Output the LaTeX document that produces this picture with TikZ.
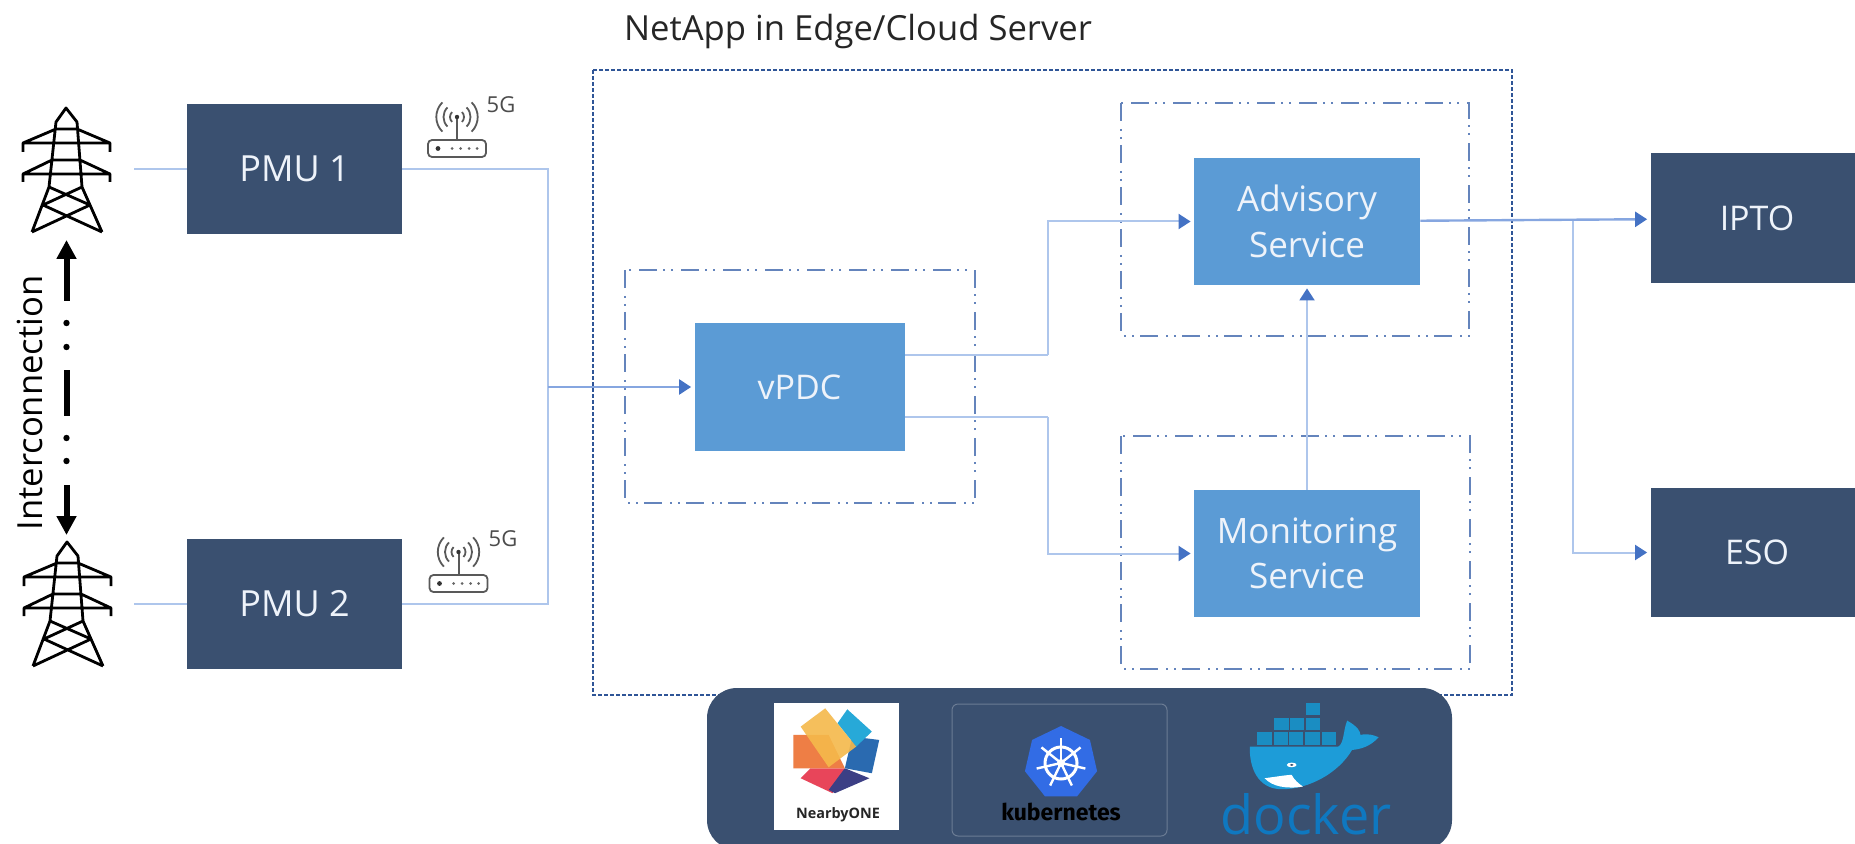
\documentclass[tikz,border=0pt]{standalone}
\usepackage{fontspec}
\setmainfont{Open Sans}
\newfontfamily\kubefont{Fira Sans}
\usetikzlibrary{arrows.meta,shapes.geometric}
\definecolor{darkbox}{HTML}{3A5070}
\definecolor{lightbox}{HTML}{5B9BD5}
\definecolor{wirecol}{HTML}{AEC6EC}
\definecolor{trunkcol}{HTML}{86A6E0}
\definecolor{tipcol}{HTML}{4472C4}
\definecolor{framecol}{HTML}{2F5597}
\definecolor{groupcol}{HTML}{6484BC}
\definecolor{boxtext}{HTML}{EEF3FA}
\definecolor{whale}{HTML}{1D9CD8}
\definecolor{kubeblue}{HTML}{326CE5}
\definecolor{dockertext}{HTML}{0F78C0}
\definecolor{logored}{HTML}{E8455A}
\definecolor{logonavy}{HTML}{3C3F85}
\definecolor{logoorange}{HTML}{EE7E45}
\definecolor{logoblue}{HTML}{2A6AB0}
\definecolor{logocyan}{HTML}{27A9D8}
\definecolor{logoyellow}{HTML}{F5B94B}
\tikzset{
  pmubox/.style={fill=darkbox,text=boxtext,minimum width=107.5pt,minimum height=65pt,inner sep=0pt,font=\fontsize{18}{20}\selectfont},
  sinkbox/.style={pmubox,minimum width=106.5pt,font=\fontsize{17}{20}\selectfont},
  appbox/.style={fill=lightbox,text=boxtext,minimum width=113pt,minimum height=63.5pt,inner sep=0pt,align=center,font=\fontsize{17.5}{22.8}\selectfont},
  wire/.style={draw=wirecol,line width=1pt},
  link/.style={wire,shorten >=1.5pt,-{Triangle[length=6pt,width=7.5pt,color=tipcol]}},
  trunk/.style={link,draw=trunkcol,line width=1.2pt},
  group/.style={draw=groupcol,line width=1.4pt,dash pattern=on 9pt off 4pt on 1pt off 3pt on 1pt off 3pt},
  bigarrow/.style={line width=3pt,-{Triangle[length=9.5pt,width=9.5pt]}},
  tower/.pic={
    \draw[line width=1.4pt,line join=round]
      (-34,124) -- (-17,79) -- (-10,14) -- (0,0) -- (11,14) -- (16,79) -- (36,124)
      (-34,124) -- (24,97) -- (-17,79) (36,124) -- (-23,97) -- (16,79)
      (-10,21) -- (11,21) (-14,52) -- (14,52)
      (-43,44) -- (-43,35) -- (-10,21) (-43,35) -- (43,35) (44,44) -- (44,35) -- (11,21)
      (-43,74) -- (-43,66) -- (-14,52) (-43,66) -- (43,66) (44,74) -- (44,66) -- (14,52);
  },
  router/.pic={
    \draw[black!65,line width=.9pt,rounded corners=2pt] (-29,23) rectangle (29,40);
    \draw[black!65,line width=1pt] (0,0) -- (0,23);
    \fill[black!80] (0,0) circle[radius=2.2] (-19,31.5) circle[radius=2.4];
    \foreach \dotx in {-5,3.5,12,20} \fill[black!60] (\dotx,31.5) circle[radius=1.5];
    \foreach \r in {7,13.5,20.7} {
      \draw[black!65,line width=.9pt] ([shift={(225:\r)}]0,0) arc[start angle=225,end angle=135,radius=\r];
      \draw[black!65,line width=.9pt] ([shift={(-45:\r)}]0,0) arc[start angle=-45,end angle=45,radius=\r];
    }
  }
}
\begin{document}
\begin{tikzpicture}[x=.5pt,y=-.5pt]
  \useasboundingbox (0,0) rectangle (1855,844);

  \path (858,32) node[font=\fontsize{17.3}{20}\selectfont,text=black!85](title) {NetApp in Edge/Cloud Server};

  % server frame and groups
  \draw[framecol,line width=1pt,dash pattern=on 2pt off 1pt] (593,70) rectangle (1512,695);
  \draw[group] (625,270) rectangle (975,503);
  \draw[group] (1121,103) rectangle (1469,336);
  \draw[group] (1121,436) rectangle (1470,669);

  % left side
  \path (66,108) pic {tower} (67,542) pic {tower};
  \path (294.5,169) node[pmubox](pmu1) {PMU 1} (294.5,604) node[pmubox](pmu2) {PMU 2};
  \path (457,117) pic {router} (458.5,552) pic {router};
  \path (501,105) node[font=\fontsize{11}{12}\selectfont,text=black!70](fg1) {5G} (503,539) node[font=\fontsize{11}{12}\selectfont,text=black!70](fg2) {5G};
  \path (30,403) node[rotate=90,font=\fontsize{17.3}{20}\selectfont](inter) {Interconnection};

  \coordinate (top1) at (66.5,301);
  \coordinate (top2) at (66.5,240);
  \coordinate (low1) at (66.5,485);
  \coordinate (low2) at (66.5,535);
  \coordinate (mid1) at (66.5,370);
  \coordinate (mid2) at (66.5,416);
  \draw[bigarrow] (top1) -- (top2);
  \draw[bigarrow] (low1) -- (low2);
  \draw[line width=3pt] (mid1) -- (mid2);
  \foreach \doty in {323,347,438,461} \fill (66.5,\doty) circle[radius=3.2];

  \coordinate (wire1) at (134,169);
  \coordinate (wire2) at (134,604);
  \coordinate (bus) at (548,387);
  \draw[wire] (wire1) -- (pmu1);
  \draw[wire] (wire2) -- (pmu2);
  \draw[wire] (pmu1) -| (bus);
  \draw[wire] (pmu2) -| (bus);

  % apps
  \path (799.5,387) node[appbox,minimum width=105pt,font=\fontsize{17}{20}\selectfont](vpdc) {vPDC};
  \path (1307,221.5) node[appbox](adv) {Advisory\\Service};
  \path (1307,553.5) node[appbox](mon) {Monitoring\\Service};
  \path (1757,218.5) node[sinkbox](ipto) {IPTO} (1757,552.5) node[sinkbox,minimum height=64.5pt](eso) {ESO};

  \draw[trunk] (bus) -- (vpdc);
  \coordinate (vout1) at (905,355);
  \coordinate (vout2) at (905,417);
  \coordinate (bend1) at (1048,355);
  \coordinate (bend2) at (1048,417);
  \coordinate (fork) at (1573,221);
  \draw[wire] (vout1) -- (bend1);
  \draw[wire] (vout2) -- (bend2);
  \draw[link] (bend1) |- (adv);
  \draw[link] (bend2) |- (mon);
  \draw[link] (mon) -- (adv);
  \draw[trunk] (adv) -- (ipto);
  \draw[link] (fork) |- (eso);

  % bottom panel
  \fill[darkbox,rounded corners=15pt] (707,688) rectangle (1452,850);
  \path (836,766.5) node[fill=white,minimum width=62.5pt,minimum height=63.5pt,inner sep=0pt](nearby) {};
  \path (838,815) node[font=\bfseries\fontsize{7.2}{9}\selectfont,text=black!85](nearbytxt) {NearbyONE};
  \begin{scope}[shift={(700,680)},xscale=.491,yscale=.333]
    \fill[logored] (205,295) -- (225,265) -- (295,265) -- (270,340) -- cycle;
    \fill[logonavy] (295,265) -- (345,295) -- (275,340) -- (262,330) -- cycle;
    \fill[logoorange] (190,165) -- (262,165) -- (295,265) -- (190,265) -- cycle;
    \fill[logoblue] (310,170) -- (365,180) -- (350,280) -- (295,265) -- cycle;
    \fill[logocyan] (300,88) -- (350,155) -- (318,200) -- (280,130) -- cycle;
    \fill[logoyellow,opacity=.9] (255,85) -- (318,200) -- (262,262) -- (205,140) -- cycle;
  \end{scope}

  \draw[darkbox!75!white,line width=.5pt,rounded corners=3pt] (952,704) rectangle (1167,836);
  \path (1061,763) node[regular polygon,regular polygon sides=7,fill=kubeblue,minimum size=37pt,inner sep=0pt](kube) {};
  \draw[white,line width=1.5pt] (kube.center) circle[radius=16];
  \foreach \a in {0,...,6} \draw[white,line width=1.2pt] (kube.center) -- ++(-90+51.43*\a:25);
  \fill[white] (kube.center) circle[radius=4];
  \path (1061,812) node[font=\kubefont\bfseries\fontsize{11.5}{13}\selectfont,text=black](kubetxt) {kubernetes};

  \begin{scope}[shift={(700,680)},xscale=.491,yscale=.333]
    \foreach \cx in {1135,1168,1200,1233,1266} \fill[whale!90!black] (\cx,155) rectangle ++(29,40);
    \foreach \cx in {1170,1202,1234} \fill[whale!90!black] (\cx,113) rectangle ++(29,38);
    \fill[whale!90!black] (1234,68) rectangle ++(29,38);
    \fill[whale] (1120,200) -- (1300,200) .. controls (1312,190) and (1310,150) .. (1318,122) .. controls (1340,140) and (1345,155) .. (1345,165) .. controls (1360,160) and (1372,165) .. (1382,172) .. controls (1365,200) and (1345,208) .. (1328,210) .. controls (1300,280) and (1240,328) .. (1185,328) .. controls (1135,328) and (1118,260) .. (1120,200) -- cycle;
    \fill[white] (1150,295) .. controls (1175,290) and (1195,285) .. (1205,285) .. controls (1210,300) and (1220,312) .. (1228,320) .. controls (1195,328) and (1165,320) .. (1150,295) -- cycle;
    \fill[white] (1205,255) circle[x radius=10,y radius=7];
    \fill[darkbox] (1205,255) circle[x radius=4,y radius=3];
  \end{scope}
  \path (1306,814) node[font=\fontsize{27}{28}\selectfont,text=dockertext](dockertxt) {docker};
\end{tikzpicture}
\end{document}
